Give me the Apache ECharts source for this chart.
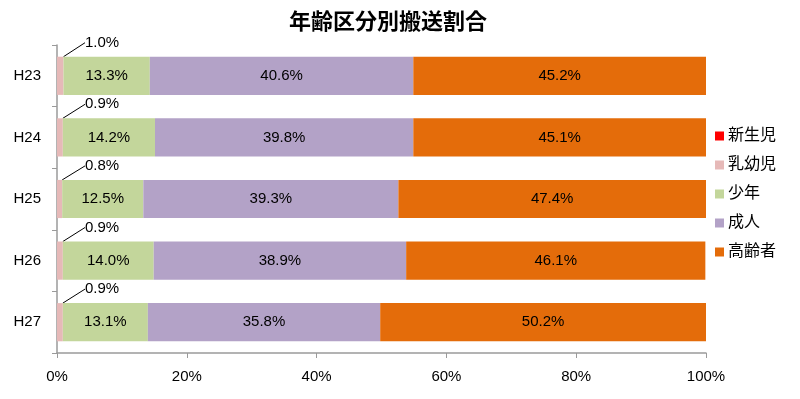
<!DOCTYPE html>
<html>
<head>
<meta charset="utf-8">
<script src="https://cdn.jsdelivr.net/npm/echarts@6/dist/echarts.min.js"></script>
<style>
  html, body { margin: 0; padding: 0; background: #fff; }
  #chart { width: 800px; height: 399px; }
</style>
</head>
<body>
<div id="chart"></div>
<script>
// 年齢区分別搬送割合 (%)
const years = ["H23", "H24", "H25", "H26", "H27"];
const seriesNames = ["新生児", "乳幼児", "少年", "成人", "高齢者"];
const newborn = [0, 0, 0, 0, 0];
const infant = [1.0, 0.9, 0.8, 0.9, 0.9];
const youth = [13.3, 14.2, 12.5, 14.0, 13.1];
const adult = [40.6, 39.8, 39.3, 38.9, 35.8];
const elderly = [45.2, 45.1, 47.4, 46.1, 50.2];
const xTicks = [0, 20, 40, 60, 80, 100];

const colors = ["#FF0000", "#E6B9B8", "#C3D69B", "#B3A2C7", "#E46C0A"];
const font = "'Liberation Sans', 'Noto Sans CJK JP', sans-serif";

const chart = echarts.init(document.getElementById("chart"));

function pct(p) {
  return p.value.toFixed(1) + "%";
}

const insideLabel = {
  show: true,
  position: "inside",
  formatter: pct,
  color: "#000",
  fontSize: 15,
  fontFamily: font
};

function barSeries(name, data, color, label, extra) {
  return Object.assign({
    name: name,
    type: "bar",
    stack: "total",
    barWidth: "62%",
    data: data,
    itemStyle: { color: color },
    label: label,
    emphasis: { disabled: true }
  }, extra || {});
}

chart.setOption({
  animation: false,
  color: colors,
  textStyle: { fontFamily: font },
  title: {
    text: "年齢区分別搬送割合",
    left: 383,
    textAlign: "center",
    top: 7,
    textStyle: { fontSize: 22, fontWeight: "bold", color: "#000", fontFamily: font }
  },
  legend: {
    orient: "vertical",
    left: 710,
    top: 123,
    itemWidth: 9,
    itemHeight: 9,
    itemGap: 13,
    icon: "rect",
    data: seriesNames,
    textStyle: { fontSize: 16, color: "#000", fontFamily: font, padding: [0, 0, 0, -1] }
  },
  grid: { left: 57, right: 94, top: 45, bottom: 46 },
  xAxis: {
    type: "value",
    min: xTicks[0],
    max: xTicks[xTicks.length - 1],
    interval: 20,
    axisLine: { show: true, lineStyle: { color: "#9a9a9a", width: 1.5 } },
    axisTick: { show: true, length: 5, lineStyle: { color: "#9a9a9a" } },
    splitLine: { show: false },
    axisLabel: { formatter: "{value}%", color: "#000", fontSize: 15, margin: 16, fontFamily: font }
  },
  yAxis: {
    type: "category",
    inverse: true,
    data: years,
    axisLine: { show: true, lineStyle: { color: "#9a9a9a", width: 1.5 } },
    axisTick: { show: true, length: 5, lineStyle: { color: "#9a9a9a" } },
    axisLabel: { color: "#000", fontSize: 15, margin: 16, fontFamily: font }
  },
  series: [
    barSeries(seriesNames[0], newborn, colors[0], { show: false }),
    barSeries(seriesNames[1], infant, colors[1], {
      show: true,
      position: "insideTop",
      formatter: pct,
      color: "#000",
      fontSize: 15,
      fontFamily: font
    }, {
      labelLine: { show: true, lineStyle: { color: "#000", width: 1 } },
      labelLayout: function (params) {
        return {
          x: params.rect.x + 28,
          y: params.rect.y - 14,
          align: "left",
          verticalAlign: "middle",
          fontSize: 15
        };
      }
    }),
    barSeries(seriesNames[2], youth, colors[2], insideLabel),
    barSeries(seriesNames[3], adult, colors[3], insideLabel),
    barSeries(seriesNames[4], elderly, colors[4], insideLabel)
  ]
});
</script>
</body>
</html>
